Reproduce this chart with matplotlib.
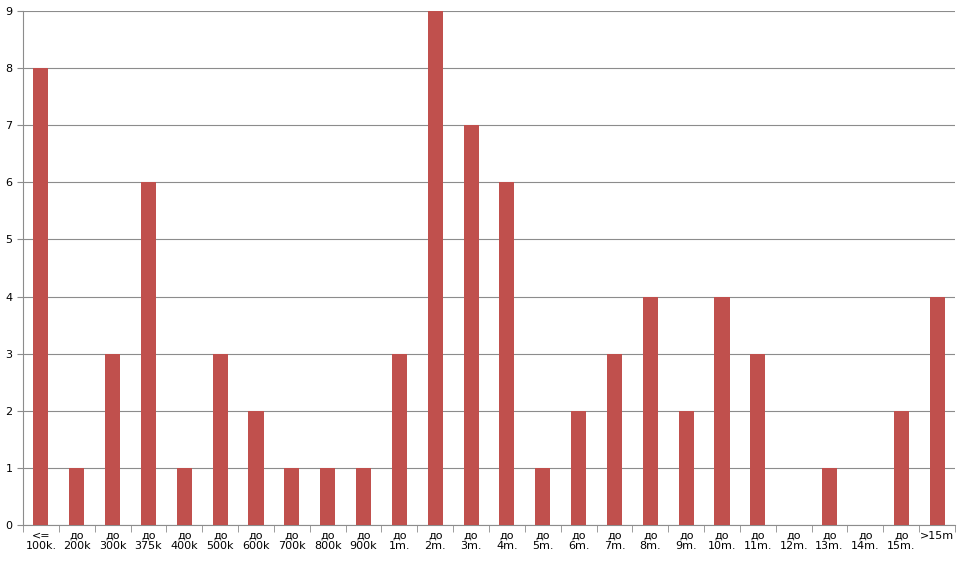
import matplotlib
matplotlib.use("Agg")
import matplotlib.pyplot as plt
import numpy as np

categories = ["<=\n100k.", "до\n200k", "до\n300k", "до\n375k", "до\n400k", "до\n500k", "до\n600k",
              "до\n700k", "до\n800k", "до\n900k", "до\n1m.", "до\n2m.", "до\n3m.", "до\n4m.",
              "до\n5m.", "до\n6m.", "до\n7m.", "до\n8m.", "до\n9m.", "до\n10m.", "до\n11m.",
              "до\n12m.", "до\n13m.", "до\n14m.", "до\n15m.", ">15m"]
values = [8, 1, 3, 6, 1, 3, 2, 1, 1, 1, 3, 9, 7, 6, 1, 2, 3, 4, 2, 4, 3, 0, 1, 0, 2, 4]

fig = plt.figure(figsize=(9.63, 5.71), dpi=100)
ax = fig.add_axes([23/963, 1-525/571, (955-23)/963, (525-11)/571])
x = np.arange(len(categories))
ax.bar(x, values, width=0.42, color="#C0504D", zorder=3)
ax.set_xlim(-0.5, len(categories)-0.5)
ax.set_ylim(0, 9)
ax.set_yticks(range(10))
ax.yaxis.grid(True, color="#8C8C8C", linewidth=0.8, zorder=0)
ax.set_xticks(x)
ax.set_xticklabels(categories, fontsize=8, linespacing=1.1)
ax.set_xticks(np.arange(-0.5, len(categories)), minor=True)
ax.tick_params(axis="x", which="major", length=0, pad=4)
ax.tick_params(axis="x", which="minor", length=5, color="#8C8C8C")
ax.tick_params(axis="y", labelsize=8, length=4, color="#8C8C8C")
for s in ["top", "right"]:
    ax.spines[s].set_visible(False)
for s in ["left", "bottom"]:
    ax.spines[s].set_color("#8C8C8C")
fig.savefig("out.png", dpi=100)
